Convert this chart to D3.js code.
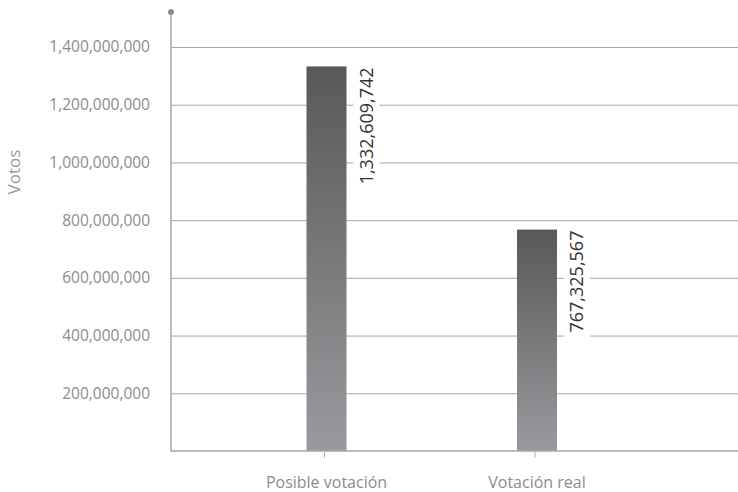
<!DOCTYPE html>
<html>
<head>
<meta charset="utf-8">
<script src="https://cdn.jsdelivr.net/npm/d3@7"></script>
<style>
  html, body { margin: 0; padding: 0; background: #fff; }
  svg { display: block; font-family: "Open Sans", "Noto Sans", sans-serif; }
</style>
</head>
<body>
<svg id="chart" width="738" height="492"></svg>
<script>
const categories = ["Posible votación", "Votación real"];
const values = [1332609742, 767325567];
const valueLabels = ["1,332,609,742", "767,325,567"];
const tickValues = [200000000, 400000000, 600000000, 800000000, 1000000000, 1200000000, 1400000000];
const yTitle = "Votos";

const svg = d3.select("#chart");
const W = 738, H = 492;
const axisX = 171, baseY = 451, topY = 47;

const y = d3.scaleLinear().domain([0, 1400000000]).range([baseY, topY]);
const x = d3.scalePoint().domain(categories).range([326.5, 537]);
const barW = 40;

// gradient
const defs = svg.append("defs");
const grad = defs.append("linearGradient").attr("id", "barGrad")
  .attr("x1", 0).attr("y1", 0).attr("x2", 0).attr("y2", 1);
grad.append("stop").attr("offset", "0%").attr("stop-color", "#575859");
grad.append("stop").attr("offset", "100%").attr("stop-color", "#999a9d");

// gridlines
const grid = svg.append("g").attr("transform", `translate(${axisX},0)`)
  .call(d3.axisRight(y).tickValues(tickValues).tickSize(W - axisX).tickFormat(""));
grid.select(".domain").remove();
grid.selectAll(".tick line").attr("stroke", "#a6a6a6").attr("stroke-width", 1);

// y tick labels
const yAxis = svg.append("g").attr("transform", `translate(${axisX},0)`)
  .call(d3.axisLeft(y).tickValues(tickValues).tickSize(0).tickPadding(21)
    .tickFormat(d3.format(",")));
yAxis.select(".domain").remove();
yAxis.selectAll("text").attr("fill", "#8c8c8c").style("font-size", "15.5px")
  .style("font-family", "'Open Sans', sans-serif");

// bars
svg.append("g").selectAll("rect").data(values).join("rect")
  .attr("x", (d, i) => x(categories[i]) - barW / 2)
  .attr("y", d => y(d))
  .attr("width", barW)
  .attr("height", d => baseY - y(d))
  .attr("fill", "url(#barGrad)");

// value labels with white background
const lab = svg.append("g");
values.forEach((v, i) => {
  const cx = x(categories[i]) + barW / 2 + 20;
  const yTop = y(v) + 1;
  const t = lab.append("text")
    .attr("transform", `translate(${cx},${yTop}) rotate(-90)`)
    .attr("text-anchor", "end")
    .attr("dy", "0.36em")
    .attr("fill", "#333")
    .style("font-size", "18px")
    .text(valueLabels[i]);
  const len = t.node().getComputedTextLength();
  lab.insert("rect", "text")
    .attr("x", cx - 13)
    .attr("y", yTop - 8)
    .attr("width", 26)
    .attr("height", len + 14)
    .attr("fill", "#fff");
});

// x axis baseline and ticks
const xAxis = svg.append("g").attr("transform", `translate(0,${baseY})`);
xAxis.append("line").attr("x1", axisX).attr("x2", W).attr("y1", 0).attr("y2", 0)
  .attr("stroke", "#a6a6a6").attr("stroke-width", 1.5);
xAxis.selectAll("line.tk").data(categories).join("line").attr("class", "tk")
  .attr("x1", d => x(d) - 2).attr("x2", d => x(d) - 2)
  .attr("y1", 0).attr("y2", 7).attr("stroke", "#b0b0b0");
xAxis.selectAll("text").data(categories).join("text")
  .attr("x", d => x(d)).attr("y", 37)
  .attr("text-anchor", "middle")
  .attr("fill", "#8c8c8c")
  .style("font-size", "16px")
  .text(d => d);

// y axis line with dot
svg.append("line").attr("x1", axisX).attr("x2", axisX).attr("y1", 12).attr("y2", baseY + 0.75)
  .attr("stroke", "#a6a6a6").attr("stroke-width", 1.5);
svg.append("circle").attr("cx", axisX).attr("cy", 12).attr("r", 3).attr("fill", "#8c8c8c");

// y title
svg.append("text")
  .attr("transform", `translate(20,172) rotate(-90)`)
  .attr("text-anchor", "middle")
  .attr("fill", "#9a9a9a")
  .style("font-size", "17px")
  .text(yTitle);
</script>
</body>
</html>
